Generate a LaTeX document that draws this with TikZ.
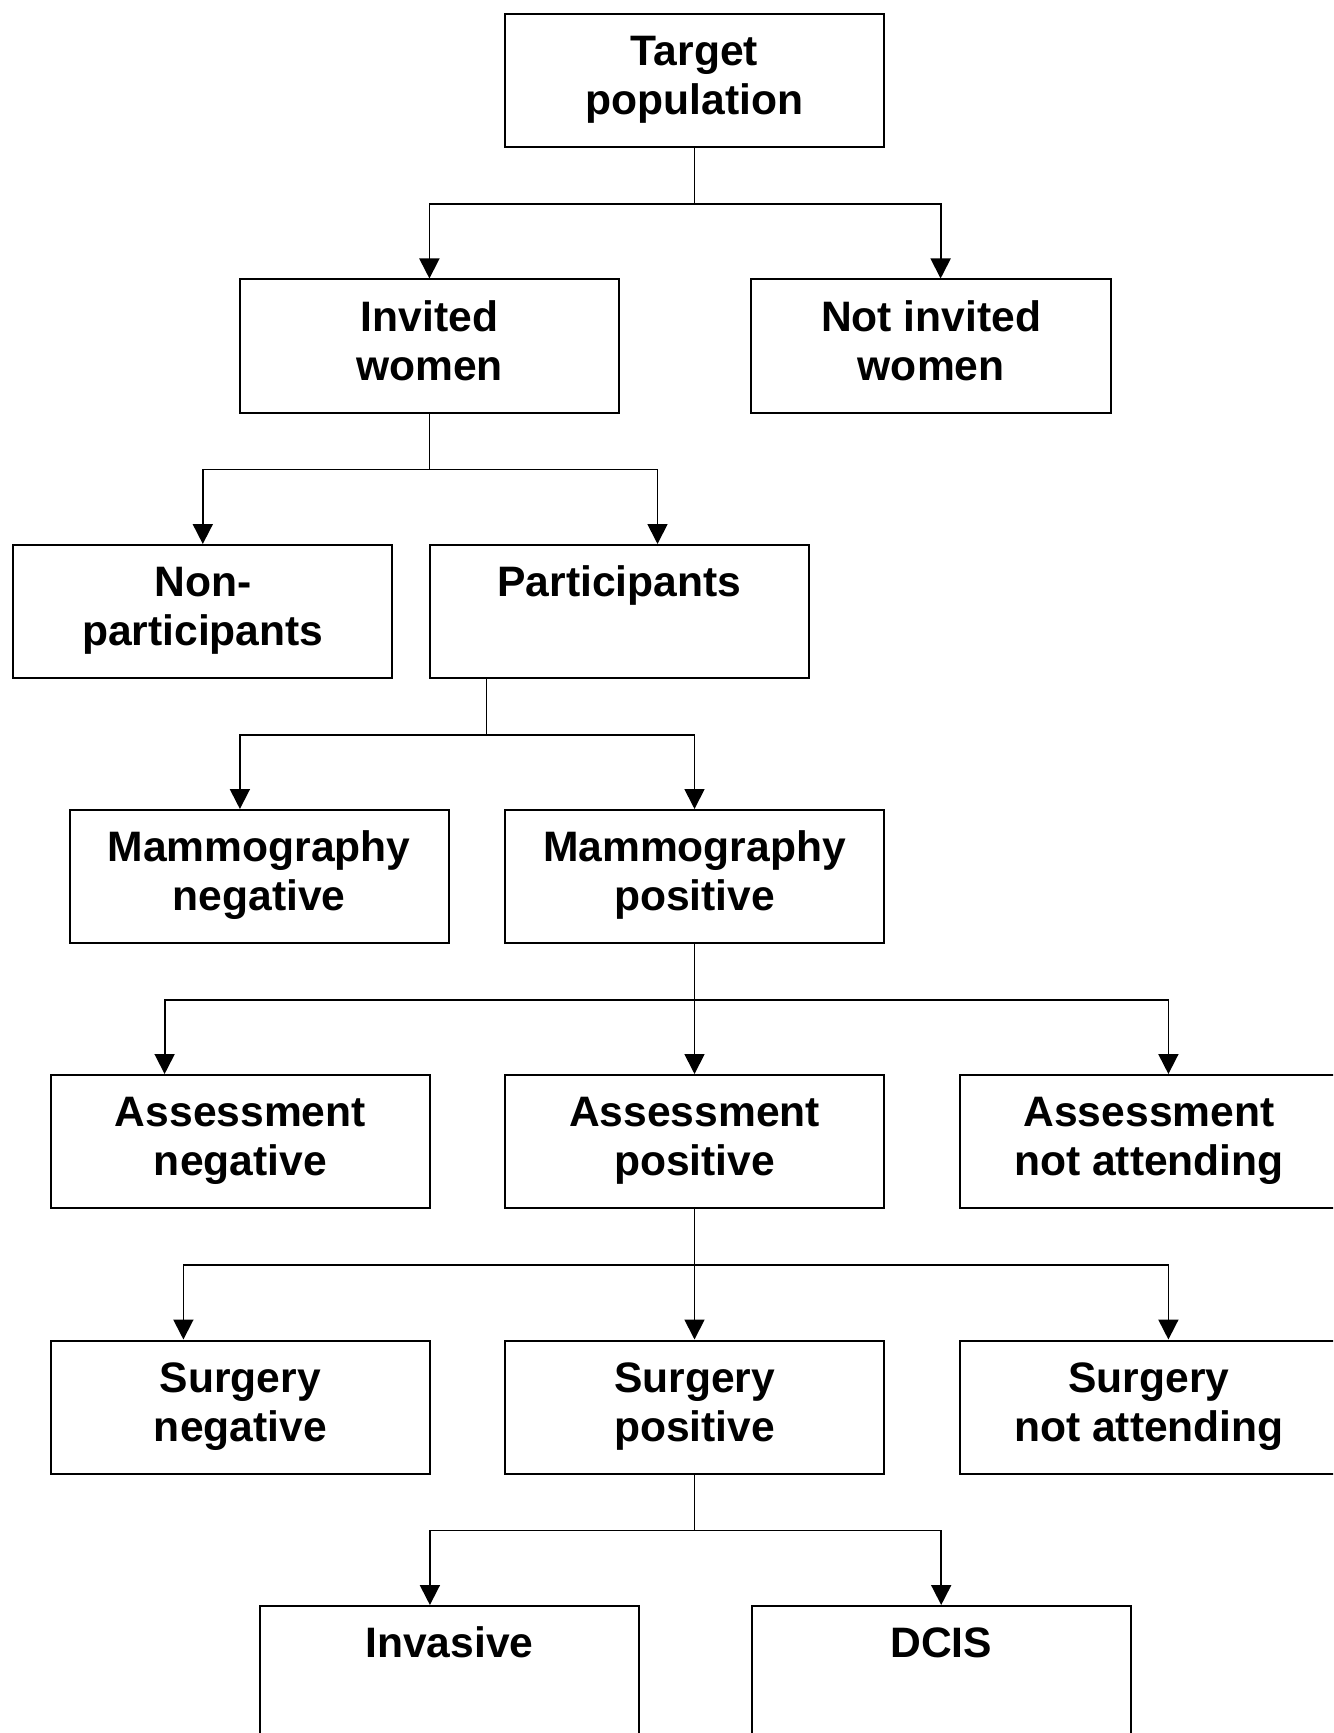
\documentclass[tikz,border=0pt]{standalone}
\usepackage{fontspec}
\setmainfont{Liberation Sans}
\usepackage{tikz}
\usetikzlibrary{arrows.meta}
\tikzset{box/.style={draw, line width=1pt, rectangle, inner sep=0pt, anchor=north,
  minimum width=189.5pt, minimum height=66.5pt, align=center,
  font=\bfseries\fontsize{21.3}{24.3}\selectfont},
  arr/.style={line width=0.9pt, -{Triangle[length=10pt,width=10pt]}}}

\begin{document}
\begin{tikzpicture}[x=0.5pt,y=-0.5pt]
\clip (0,0) rectangle (1333,1733);
%\draw[help lines] (0,0) grid (1333,1733);
\node[box] (target)  at (694.5,13)    {\strut Target\\\strut population};
\node[box] (invited) at (429.4,278.5) {\strut Invited\\\strut women};
\node[box, minimum width=180pt] (notinv) at (931.2,278.5) {\strut Not invited\\\strut women};
\node[box] (nonpart) at (202.8,544)   {\strut Non-\\\strut participants};
\node[box] (partic)  at (619.5,544)   {\strut Participants\\\strut};
\node[box] (mamneg)  at (259.1,809)   {\strut Mammography\\\strut negative};
\node[box] (mampos)  at (694.5,809)   {\strut Mammography\\\strut positive};
\node[box] (assneg)  at (240.4,1074)  {\strut Assessment\\\strut negative};
\node[box] (asspos)  at (694.5,1074)  {\strut Assessment\\\strut positive};
\node[box] (assnot)  at (1149,1074)   {\strut Assessment\\\strut not attending};
\node[box] (surneg)  at (240.4,1339.5) {\strut Surgery\\\strut negative};
\node[box] (surpos)  at (694.5,1339.5) {\strut Surgery\\\strut positive};
\node[box] (surnot)  at (1149,1339.5)  {\strut Surgery\\\strut not attending};
\node[box] (invas)   at (449.3,1605)  {\strut Invasive\\\strut};
\node[box] (dcis)    at (941.2,1605)  {\strut DCIS\\\strut};
% branches
\draw[arr] (target.south) -- ++(0,56) -| (invited.north);
\draw[arr] (target.south) -- ++(0,56) -| ([xshift=4.7pt]notinv.north);
\draw[arr] (invited.south) -- ++(0,56) -| (nonpart.north);
\draw[arr] (invited.south) -- ++(0,56) -| ([xshift=19pt]partic.north);
\draw[arr] ([xshift=-66.5pt]partic.south) -- ++(0,56) -| ([xshift=-9.6pt]mamneg.north);
\draw[arr] ([xshift=-66.5pt]partic.south) -- ++(0,56) -| (mampos.north);
\draw[arr] (mampos.south) -- ++(0,56) -| ([xshift=-37.9pt]assneg.north);
\draw[arr] (mampos.south) -- (asspos.north);
\draw[arr] (mampos.south) -- ++(0,56) -| ([xshift=9.7pt]assnot.north);
\draw[arr] (asspos.south) -- ++(0,56) -| ([xshift=-28.5pt]surneg.north);
\draw[arr] (asspos.south) -- (surpos.north);
\draw[arr] (asspos.south) -- ++(0,56) -| ([xshift=9.7pt]surnot.north);
\draw[arr] (surpos.south) -- ++(0,56) -| ([xshift=-9.7pt]invas.north);
\draw[arr] (surpos.south) -- ++(0,56) -| (dcis.north);
\end{tikzpicture}
\end{document}
